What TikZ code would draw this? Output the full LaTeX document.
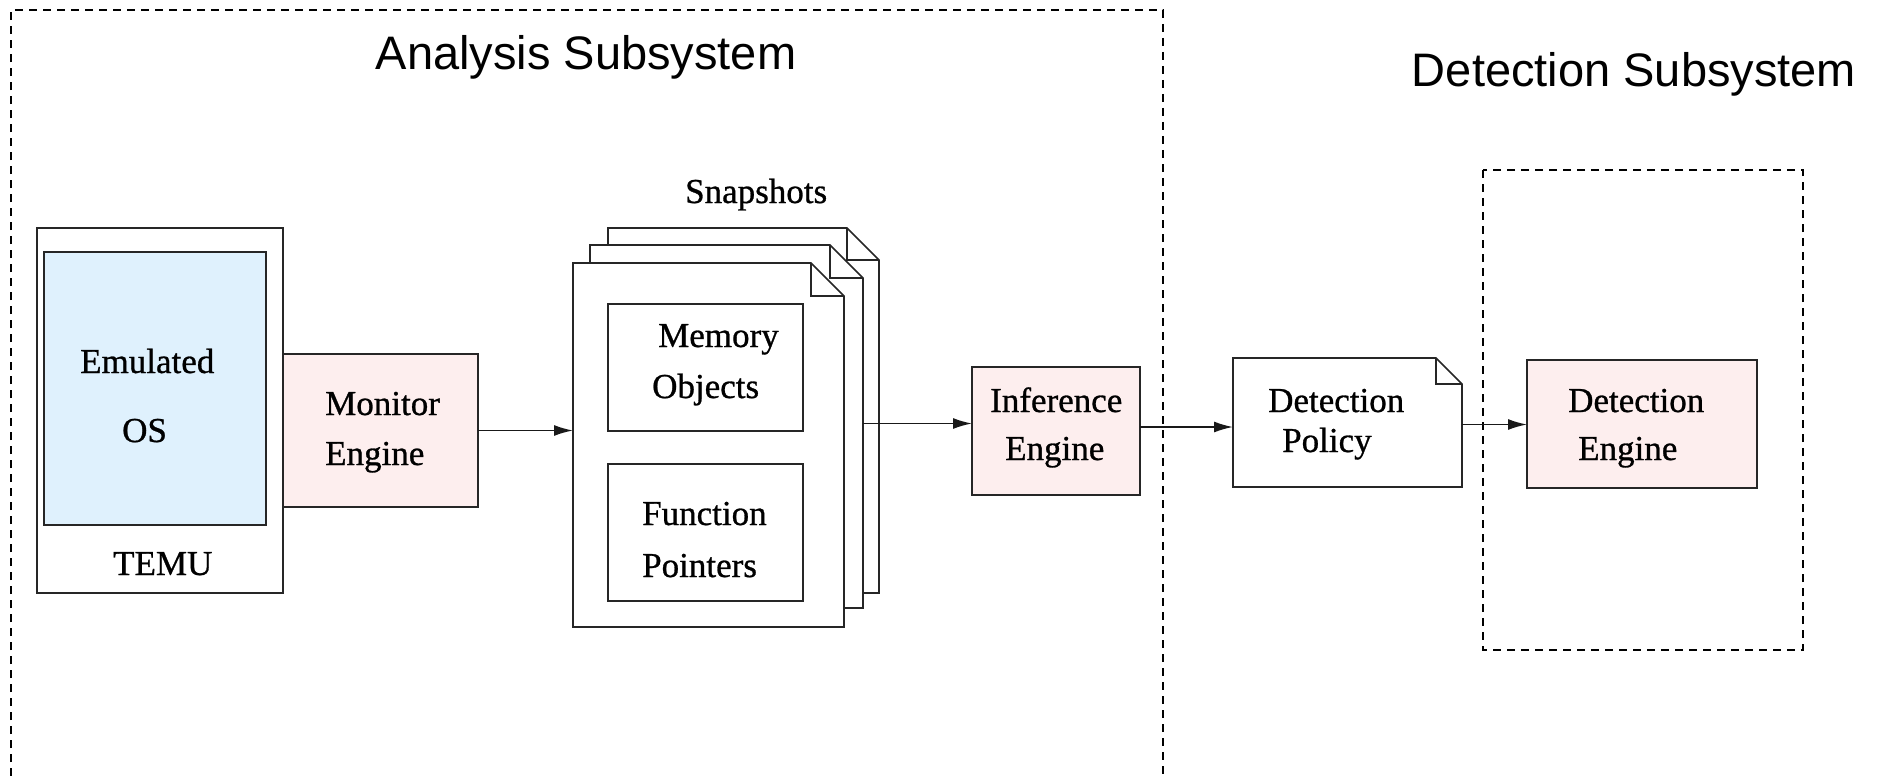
\documentclass[tikz,border=0pt]{standalone}
\usepackage{fontspec}
\setmainfont[FakeBold=0.8]{Liberation Serif}
\newfontfamily\titlefont{Liberation Sans}
\usetikzlibrary{arrows.meta}
\definecolor{osblue}{HTML}{DFF1FD}
\definecolor{engpink}{HTML}{FDEEEE}
\tikzset{
  boxline/.style={draw=black!85, line width=1.6pt},
  plainbox/.style={boxline, inner sep=0pt, outer sep=0pt},
  ghost/.style={inner sep=0pt, outer sep=0pt},
  lbl/.style={inner sep=0pt, anchor=base west, font=\fontsize{35}{40}\selectfont},
  ttl/.style={inner sep=0pt, anchor=base, font=\titlefont\fontsize{47}{52}\selectfont},
  groupline/.style={draw=black, line width=2pt, dash pattern=on 8pt off 6pt},
  arr/.style={draw=black!90, line width=1.6pt, -{Latex[length=19pt,width=11pt]}}
}
\newcommand{\dogpage}[5]{%
  \draw[boxline, fill=white] (#1,#2) -- ({#3-#5},#2) -- (#3,{#2+#5}) -- (#3,#4) -- (#1,#4) -- cycle;
  \draw[boxline] ({#3-#5},#2) -- ({#3-#5},{#2+#5}) -- (#3,{#2+#5});}
\begin{document}
\begin{tikzpicture}[x=1pt,y=-1pt]
\useasboundingbox (0,0) rectangle (1890,776);
% group boxes
\draw[groupline] (11,776) -- (11,10) -- (1163,10) -- (1163,776);
\draw[groupline] (1483,170) rectangle (1803,650);
\node[ttl] (tA) at (586,70) {Analysis Subsystem};
\node[ttl] (tD) at (1634,86) {Detection Subsystem};
% TEMU
\node[plainbox, fill=white, minimum width=246pt, minimum height=365pt] (temu) at (160,410.5) {};
\node[plainbox, fill=osblue, minimum width=222pt, minimum height=273pt] (emu) at (155,388.5) {};
\node[lbl] (emu1) at (80,373) {Emulated};
\node[lbl] (emu2) at (122,442) {OS};
\node[lbl] (temut) at (113,575) {TEMU};
% Monitor engine
\node[plainbox, fill=engpink, minimum width=195pt, minimum height=153pt] (mon) at (380.5,430.5) {};
\node[lbl] (mon1) at (325,415) {Monitor};
\node[lbl] (mon2) at (325,465) {Engine};
% Snapshots
\node[lbl] (snapt) at (685,203) {Snapshots};
\dogpage{608}{228}{879}{593}{32}
\dogpage{590}{245}{863}{608}{33}
\dogpage{573}{263}{844}{627}{33}
\node[ghost, minimum width=271pt, minimum height=365pt] (back) at (743.5,410.5) {};
\node[ghost, minimum width=273pt, minimum height=363pt] (mid) at (726.5,426.5) {};
\node[ghost, minimum width=271pt, minimum height=364pt] (front) at (708.5,445) {};
\node[plainbox, minimum width=195pt, minimum height=127pt] (mem) at (705.5,367.5) {};
\node[lbl] (mem1) at (658,347) {Memory};
\node[lbl] (mem2) at (652,398) {Objects};
\node[plainbox, minimum width=195pt, minimum height=137pt] (fp) at (705.5,532.5) {};
\node[lbl] (fp1) at (642,525) {Function};
\node[lbl] (fp2) at (642,577) {Pointers};
% Inference engine
\node[plainbox, fill=engpink, minimum width=168pt, minimum height=128pt] (inf) at (1056,431) {};
\node[lbl] (inf1) at (990,412) {Inference};
\node[lbl] (inf2) at (1005,460) {Engine};
% Detection policy
\dogpage{1233}{358}{1462}{487}{26}
\node[ghost, minimum width=229pt, minimum height=129pt] (pol) at (1347.5,422.5) {};
\node[lbl] (pol1) at (1268,412) {Detection};
\node[lbl] (pol2) at (1282,452) {Policy};
% Detection engine
\node[plainbox, fill=engpink, minimum width=230pt, minimum height=128pt] (det) at (1642,424) {};
\node[lbl] (det1) at (1568,412) {Detection};
\node[lbl] (det2) at (1578,460) {Engine};
% connectors
\draw[arr] (mon.east) -- (mon.east -| front.west);
\draw[arr] ([yshift=3pt]mid.east) -- ([yshift=3pt]mid.east -| inf.west);
\draw[arr] ([yshift=4pt]inf.east) -- ([yshift=4pt]inf.east -| pol.west);
\draw[arr] ([yshift=-2pt]pol.east) -- ([yshift=-2pt]pol.east -| det.west);
\end{tikzpicture}
\end{document}
